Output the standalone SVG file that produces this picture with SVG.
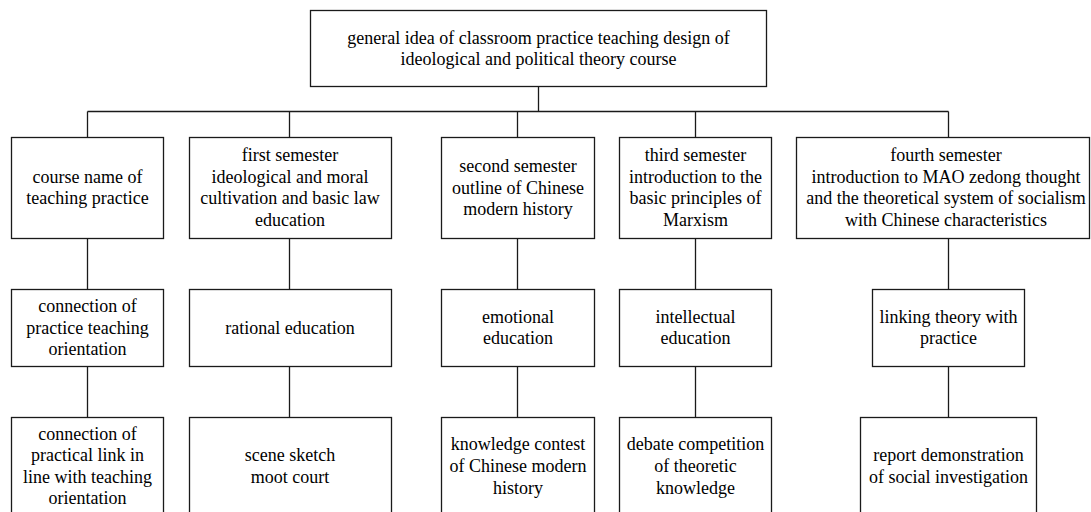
<svg xmlns="http://www.w3.org/2000/svg" width="1091" height="512" viewBox="0 0 1091 512">
<style>
.box{fill:#fff;stroke:#1a1a1a;stroke-width:1.3}
.ln{stroke:#1a1a1a;stroke-width:1.3;fill:none}
text{font-family:"Liberation Serif","Times New Roman",serif;font-size:18px;fill:#000;text-anchor:middle}
</style>
<rect width="1091" height="512" fill="#fff"/>
<g id="connectors">
<path class="ln" d="M538.5 86.5V111.5M87.5 111.5H948.5M87.5 111.5V137.5M289.5 111.5V137.5M517.5 111.5V137.5M695.5 111.5V137.5M948.5 111.5V137.5"/>
<path class="ln" d="M87.5 238.5V289.5M289.5 238.5V289.5M517.5 238.5V289.5M695.5 238.5V289.5M948.5 238.5V289.5"/>
<path class="ln" d="M87.5 366.5V417.5M289.5 366.5V417.5M517.5 366.5V417.5M695.5 366.5V417.5M948.5 366.5V417.5"/>
</g>
<g id="root">
<rect class="box" x="310.5" y="10.5" width="456" height="76"/>
<text x="538.5" y="44">general idea of classroom practice teaching design of</text>
<text x="538.5" y="65">ideological and political theory course</text>
</g>
<g id="course-name">
<rect class="box" x="11.5" y="137.5" width="152" height="101"/>
<text x="87.5" y="182.6">course name of</text>
<text x="87.5" y="204.3">teaching practice</text>
</g>
<g id="first-semester">
<rect class="box" x="189.5" y="137.5" width="202" height="101"/>
<text x="290" y="161">first semester</text>
<text x="290" y="182.6">ideological and moral</text>
<text x="290" y="204.3">cultivation and basic law</text>
<text x="290" y="226">education</text>
</g>
<g id="second-semester">
<rect class="box" x="441.5" y="137.5" width="153" height="101"/>
<text x="518" y="171.8">second semester</text>
<text x="518" y="193.5">outline of Chinese</text>
<text x="518" y="215.2">modern history</text>
</g>
<g id="third-semester">
<rect class="box" x="619.5" y="137.5" width="152" height="101"/>
<text x="695.5" y="161">third semester</text>
<text x="695.5" y="182.6">introduction to the</text>
<text x="695.5" y="204.3">basic principles of</text>
<text x="695.5" y="226">Marxism</text>
</g>
<g id="fourth-semester">
<rect class="box" x="796.5" y="137.5" width="293" height="101"/>
<text x="946" y="161">fourth semester</text>
<text x="946" y="182.6">introduction to MAO zedong thought</text>
<text x="946" y="204.3">and the theoretical system of socialism</text>
<text x="946" y="226">with Chinese characteristics</text>
</g>
<g id="orientation">
<rect class="box" x="11.5" y="289.5" width="152" height="77"/>
<text x="87.5" y="311.8">connection of</text>
<text x="87.5" y="333.5">practice teaching</text>
<text x="87.5" y="355.2">orientation</text>
</g>
<g id="rational">
<rect class="box" x="189.5" y="289.5" width="202" height="77"/>
<text x="290" y="333.5">rational education</text>
</g>
<g id="emotional">
<rect class="box" x="441.5" y="289.5" width="153" height="77"/>
<text x="518" y="322.6">emotional</text>
<text x="518" y="344.3">education</text>
</g>
<g id="intellectual">
<rect class="box" x="619.5" y="289.5" width="152" height="77"/>
<text x="695.5" y="322.6">intellectual</text>
<text x="695.5" y="344.3">education</text>
</g>
<g id="linking">
<rect class="box" x="872.5" y="289.5" width="152" height="77"/>
<text x="948.5" y="322.6">linking theory with</text>
<text x="948.5" y="344.3">practice</text>
</g>
<g id="practical-link">
<rect class="box" x="11.5" y="417.5" width="152" height="100"/>
<text x="87.5" y="439.5">connection of</text>
<text x="87.5" y="461">practical link in</text>
<text x="87.5" y="482.5">line with teaching</text>
<text x="87.5" y="504">orientation</text>
</g>
<g id="scene-sketch">
<rect class="box" x="189.5" y="417.5" width="202" height="100"/>
<text x="290" y="461">scene sketch</text>
<text x="290" y="482.7">moot court</text>
</g>
<g id="knowledge-contest">
<rect class="box" x="441.5" y="417.5" width="153" height="100"/>
<text x="518" y="450.3">knowledge contest</text>
<text x="518" y="472">of Chinese modern</text>
<text x="518" y="493.7">history</text>
</g>
<g id="debate">
<rect class="box" x="619.5" y="417.5" width="152" height="100"/>
<text x="695.5" y="450.3">debate competition</text>
<text x="695.5" y="472">of theoretic</text>
<text x="695.5" y="493.7">knowledge</text>
</g>
<g id="report">
<rect class="box" x="860.5" y="417.5" width="176" height="100"/>
<text x="948.5" y="461">report demonstration</text>
<text x="948.5" y="482.7">of social investigation</text>
</g>
</svg>
